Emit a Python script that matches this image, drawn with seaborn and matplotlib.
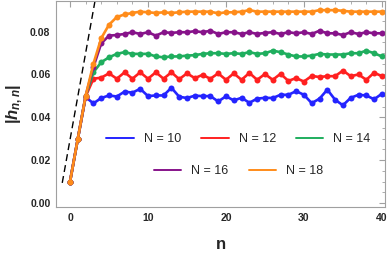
import seaborn as sns
import matplotlib.pyplot as plt
import matplotlib.ticker as mticker
from matplotlib.lines import Line2D
import pandas as pd

# values
n_values = list(range(41))

h_n10 = [0.0100, 0.0300, 0.0494, 0.0465, 0.0490, 0.0502, 0.0497, 0.0520, 0.0515, 0.0533,
         0.0499, 0.0502, 0.0502, 0.0538, 0.0496, 0.0490, 0.0501, 0.0499, 0.0499, 0.0474,
         0.0498, 0.0479, 0.0491, 0.0468, 0.0487, 0.0491, 0.0490, 0.0505, 0.0505, 0.0522,
         0.0505, 0.0466, 0.0487, 0.0529, 0.0482, 0.0456, 0.0491, 0.0505, 0.0502, 0.0484, 0.0510]
h_n12 = [0.0100, 0.0300, 0.0497, 0.0580, 0.0585, 0.0605, 0.0580, 0.0610, 0.0580, 0.0610,
         0.0580, 0.0610, 0.0580, 0.0610, 0.0578, 0.0605, 0.0583, 0.0598, 0.0580, 0.0605,
         0.0575, 0.0605, 0.0575, 0.0607, 0.0575, 0.0602, 0.0575, 0.0603, 0.0570, 0.0583,
         0.0567, 0.0593, 0.0588, 0.0592, 0.0592, 0.0618, 0.0592, 0.0600, 0.0575, 0.0608, 0.0592]
h_n14 = [0.0100, 0.0300, 0.0499, 0.0610, 0.0657, 0.0680, 0.0696, 0.0704, 0.0696, 0.0696,
         0.0696, 0.0684, 0.0680, 0.0684, 0.0684, 0.0688, 0.0690, 0.0696, 0.0699, 0.0699,
         0.0696, 0.0699, 0.0696, 0.0704, 0.0696, 0.0699, 0.0711, 0.0704, 0.0693, 0.0684,
         0.0684, 0.0688, 0.0696, 0.0693, 0.0693, 0.0693, 0.0699, 0.0699, 0.0711, 0.0699, 0.0684]
h_n16 = [0.0100, 0.0300, 0.0500, 0.0635, 0.0745, 0.0781, 0.0784, 0.0789, 0.0797, 0.0789,
         0.0797, 0.0781, 0.0797, 0.0794, 0.0797, 0.0797, 0.0802, 0.0797, 0.0804, 0.0789,
         0.0797, 0.0797, 0.0789, 0.0797, 0.0789, 0.0794, 0.0797, 0.0789, 0.0797, 0.0792,
         0.0797, 0.0789, 0.0804, 0.0792, 0.0792, 0.0784, 0.0797, 0.0789, 0.0797, 0.0792, 0.0792]
h_n18 = [0.0100, 0.0300, 0.0500, 0.0650, 0.0769, 0.0832, 0.0868, 0.0880, 0.0887, 0.0893,
         0.0890, 0.0887, 0.0890, 0.0887, 0.0890, 0.0893, 0.0893, 0.0893, 0.0893, 0.0885,
         0.0890, 0.0890, 0.0893, 0.0900, 0.0893, 0.0893, 0.0893, 0.0893, 0.0893, 0.0893,
         0.0893, 0.0893, 0.0900, 0.0900, 0.0900, 0.0897, 0.0893, 0.0893, 0.0893, 0.0893, 0.0893]

series_labels = ['N = 10', 'N = 12', 'N = 14', 'N = 16', 'N = 18']
series_colors = ['#2424ff', '#ff2020', '#1fae5e', '#87138a', '#ff8c1a']

# dashed reference line (two end points)
dash_n = [-1.0, 3.5]
dash_h = [0.0094, 0.1003]

# long dataframe for seaborn
df = pd.DataFrame({
    'n': n_values * 5,
    'h': h_n10 + h_n12 + h_n14 + h_n16 + h_n18,
    'N': [lab for lab in series_labels for _ in n_values],
})
df_dash = pd.DataFrame({'n': dash_n, 'h': dash_h})

sns.set_style("white")
plt.rcParams['font.family'] = ['Liberation Sans', 'DejaVu Sans']
plt.rcParams['mathtext.fontset'] = 'custom'
plt.rcParams['mathtext.rm'] = 'Liberation Sans:bold'
plt.rcParams['mathtext.it'] = 'Liberation Sans:italic:bold'
plt.rcParams['mathtext.bf'] = 'Liberation Sans:bold'

fig = plt.figure(figsize=(3.9, 2.56), dpi=100)
ax = fig.add_axes([0.1436, 0.191, 0.8436, 0.807])

sns.lineplot(data=df_dash, x='n', y='h', ax=ax, color='black', linestyle=(0, (5, 3)),
             linewidth=1.0, legend=False)
sns.lineplot(data=df, x='n', y='h', hue='N', palette=series_colors, ax=ax,
             marker='o', markersize=4.3, markeredgewidth=0, linewidth=1.9, legend=False)

ax.set_xlim(-1.8, 40.4)
ax.set_ylim(-0.0019, 0.0945)

# Mathematica-like frame ticks
ax.xaxis.set_major_locator(mticker.MultipleLocator(10))
ax.xaxis.set_minor_locator(mticker.MultipleLocator(2))
ax.yaxis.set_major_locator(mticker.MultipleLocator(0.02))
ax.yaxis.set_minor_locator(mticker.MultipleLocator(0.005))
ax.yaxis.set_major_formatter(mticker.FormatStrFormatter('%.2f'))
ax.tick_params(which='both', direction='in', top=True, right=True, color='#a0a0a0')
ax.tick_params(which='major', length=4, width=0.8, labelsize=7.5, pad=4)
ax.tick_params(which='minor', length=2, width=0.6)
for lab in ax.get_xticklabels() + ax.get_yticklabels():
    lab.set_fontweight('bold')
for sp in ax.spines.values():
    sp.set_color('#a0a0a0')
    sp.set_linewidth(0.8)

ax.set_xlabel('n', fontsize=12, fontweight='bold', labelpad=10)
ax.set_ylabel(r'$|h_{n,n}|$', fontsize=12, labelpad=4)

# two legend rows, both centred
handles = [Line2D([0], [0], color=c, linewidth=1.4) for c in series_colors]
leg1 = ax.legend(handles[:3], series_labels[:3], ncol=3, loc='center',
                 bbox_to_anchor=(0.555, 0.33), frameon=False, fontsize=9,
                 handlelength=2.2, columnspacing=1.6, handletextpad=0.8)
ax.add_artist(leg1)
ax.legend(handles[3:], series_labels[3:], ncol=2, loc='center',
          bbox_to_anchor=(0.555, 0.175), frameon=False, fontsize=9,
          handlelength=2.2, columnspacing=1.6, handletextpad=0.8)

plt.savefig('out.png', dpi=100)
